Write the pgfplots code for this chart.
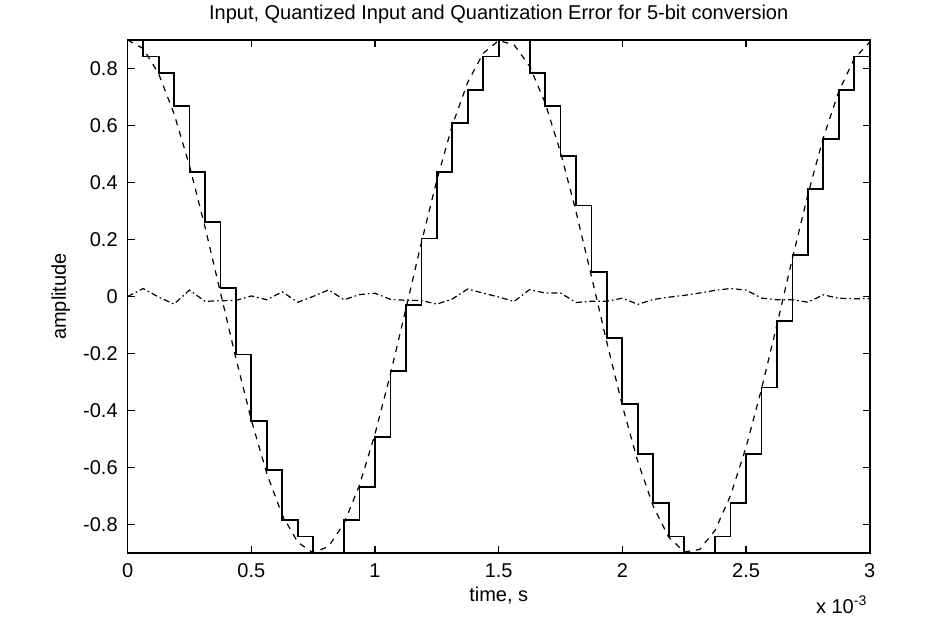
\documentclass[border=0pt]{standalone}
\usepackage{pgfplots}
\pgfplotsset{compat=1.18}
\usepackage{pgfplotstable}
\usepackage{fontspec}
\setmainfont{Liberation Sans}

% 5-bit conversion, fs = 16 kHz: time (ms), input, quantized input, error
\pgfplotstableread{
t      x       xq      e
0      0.9000  0.9000  0.0000
0.0625 0.8699  0.8419  0.0280
0.125  0.7818  0.7839 -0.0021
0.1875 0.6413  0.6677 -0.0265
0.25   0.4581  0.4355  0.0227
0.3125 0.2443  0.2613 -0.0170
0.375  0.0141  0.0290 -0.0149
0.4375 -0.2170 -0.2032 -0.0137
0.5    -0.4336 -0.4355  0.0019
0.5625 -0.6212 -0.6097 -0.0115
0.625  -0.7674 -0.7839  0.0165
0.6875 -0.8623 -0.8419 -0.0204
0.75   -0.8996 -0.9000  0.0004
0.8125 -0.8768 -0.9000  0.0233
0.875  -0.7954 -0.7839 -0.0115
0.9375 -0.6609 -0.6677  0.0069
1.0    -0.4823 -0.4935  0.0113
1.0625 -0.2714 -0.2613 -0.0101
1.125  -0.0424 -0.0290 -0.0134
1.1875 0.1894  0.2032 -0.0138
1.25   0.4086  0.4355 -0.0269
1.3125 0.6011  0.6097 -0.0086
1.375  0.7522  0.7258  0.0264
1.4375 0.8537  0.8419  0.0118
1.5    0.8982  0.9000 -0.0018
1.5625 0.8827  0.9000 -0.0173
1.625  0.8082  0.7839  0.0244
1.6875 0.6799  0.6677  0.0122
1.75   0.5059  0.4935  0.0123
1.8125 0.2982  0.3194 -0.0211
1.875  0.0706  0.0871 -0.0165
1.9375 -0.1617 -0.1452 -0.0165
2.0    -0.3832 -0.3774 -0.0058
2.0625 -0.5791 -0.5516 -0.0275
2.125  -0.7363 -0.7258 -0.0105
2.1875 -0.8444 -0.8419 -0.0024
2.25   -0.8960 -0.9000  0.0040
2.3125 -0.8878 -0.9000  0.0122
2.375  -0.8203 -0.8419  0.0217
2.4375 -0.6978 -0.7258  0.0280
2.5    -0.5290 -0.5516  0.0226
2.5625 -0.3247 -0.3194 -0.0054
2.625  -0.0988 -0.0871 -0.0117
2.6875 0.1338  0.1452 -0.0114
2.75   0.3574  0.3774 -0.0200
2.8125 0.5574  0.5516  0.0058
2.875  0.7197  0.7258 -0.0061
2.9375 0.8342  0.8419 -0.0078
3.0    0.8929  0.9000 -0.0071
}\adcdata

\begin{document}
\begin{tikzpicture}[font=\fontsize{10}{12}\selectfont]
\useasboundingbox (-63.85pt,-37.5pt) rectangle (407.15pt,276.5pt);
\begin{axis}[
    at={(0pt,0pt)}, anchor=south west,
    width=371pt, height=256.5pt, scale only axis,
    xmin=0, xmax=3, ymin=-0.9, ymax=0.9,
    xtick={0,0.5,1,1.5,2,2.5,3},
    xticklabels={0,0.5,1,1.5,2,2.5,3},
    ytick={-0.8,-0.6,-0.4,-0.2,0,0.2,0.4,0.6,0.8},
    yticklabels={-0.8,-0.6,-0.4,-0.2,0,0.2,0.4,0.6,0.8},
    tick align=inside, tick pos=both, major tick length=3.5pt,
    every tick/.style={black, line width=0.6pt},
    axis line style={line width=0.8pt},
    xticklabel style={yshift=-1.7pt},
    yticklabel style={xshift=-1.5pt},
    clip=false,
    title={Input, Quantized Input and Quantization Error for 5-bit conversion},
    % the default title style already shifts it up by 6pt
    title style={at={(axis description cs:0.5,1.039)}, anchor=base, yshift=-6pt},
    xlabel={time, s},
    xlabel style={at={(axis description cs:0.5,-0.0838)}, anchor=center},
    ylabel={amplitude},
    ylabel style={at={(axis description cs:-0.0903,0.5)}, anchor=center},
]
\addplot[black, line width=0.6pt, dashed] table[x=t, y=x] {\adcdata};
\addplot[black, line width=0.9pt, const plot] table[x=t, y=xq] {\adcdata};
\addplot[black, line width=0.6pt, dash pattern=on 3pt off 1.5pt on 0.8pt off 1.5pt] table[x=t, y=e] {\adcdata};
\end{axis}
\node[anchor=base east, inner sep=0pt] at (370pt,-30pt) {x 10\textsuperscript{-3}};
\end{tikzpicture}
\end{document}
